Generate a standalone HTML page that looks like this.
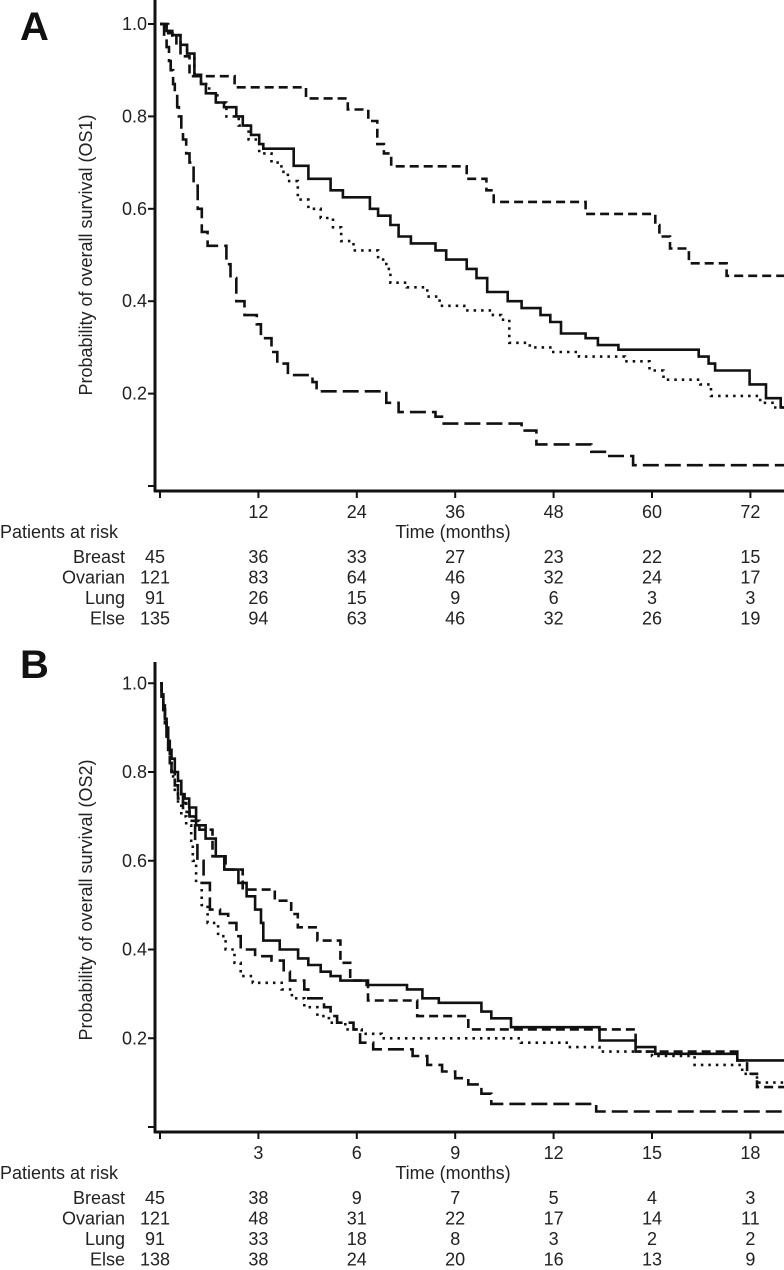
<!DOCTYPE html>
<html><head><meta charset="utf-8">
<style>
html,body{margin:0;padding:0;background:#fff;}
svg{display:block;font-family:"Liberation Sans",Arial,sans-serif;}
</style></head>
<body>
<svg id="chart" width="784" height="1270" viewBox="0 0 784 1270"></svg>
<script>
// ---------- Panel A data (months / survival) ----------
const aTicksX = [12, 24, 36, 48, 60, 72];
const aTicksY = [0.2, 0.4, 0.6, 0.8, 1.0];
const aBreastT = [0,1,2,2.5,3.6,9.1,17.8,22.9,25.4,26.5,27.3,28.2,37.4,39.8,40.7,51.9,60.4,60.9,62.2,64.5,69.1];
const aBreastS = [1,0.98,0.955,0.93,0.887,0.863,0.839,0.815,0.79,0.74,0.72,0.692,0.665,0.64,0.615,0.589,0.565,0.54,0.514,0.482,0.455];
const aOvarianT = [0,0.8,1.5,2.5,3.3,4.2,5.0,5.6,6.8,7.8,9.3,10.1,11.1,12.1,12.6,16.3,18.1,20.8,22.3,25.6,26.6,28.1,29.1,30.6,33.6,34.9,37.4,38.6,39.9,42.4,44.1,46.4,47.6,48.9,51.9,53.4,55.9,65.7,66.9,67.7,71.9,73.9,75.7];
const aOvarianS = [1,0.985,0.976,0.955,0.936,0.89,0.87,0.85,0.83,0.82,0.80,0.78,0.76,0.74,0.73,0.693,0.665,0.64,0.625,0.60,0.585,0.565,0.54,0.525,0.51,0.49,0.47,0.45,0.42,0.40,0.385,0.37,0.355,0.33,0.32,0.305,0.295,0.28,0.265,0.25,0.22,0.19,0.17];
const aLungT = [0,0.5,0.8,1.1,1.3,1.6,1.8,2.1,2.3,2.6,2.8,3.2,3.6,4.1,4.6,5.1,5.8,8.1,8.6,9.3,10.3,11.8,12.3,13.6,14.3,15.6,18.6,19.1,27.6,29.1,33.6,34.6,44.1,45.9,52.6,54.6,57.7];
const aLungS = [1,0.97,0.95,0.92,0.9,0.87,0.85,0.82,0.80,0.77,0.75,0.72,0.70,0.65,0.60,0.55,0.52,0.48,0.45,0.40,0.37,0.35,0.32,0.29,0.265,0.24,0.225,0.205,0.18,0.16,0.15,0.135,0.12,0.09,0.074,0.065,0.045];
const aElseT = [0,0.8,1.5,2.5,3.3,4.2,5.0,6.0,7.0,8.1,9.6,10.8,12.1,13.6,14.8,15.6,16.8,18.1,19.6,21.1,22.1,23.6,26.6,27.6,28.1,30.1,32.6,34.1,37.1,40.6,41.6,42.6,45.1,47.6,51.1,56.7,59.7,61.4,65.9,67.2,73.2,74.7];
const aElseS = [1,0.985,0.975,0.955,0.93,0.89,0.87,0.85,0.83,0.80,0.78,0.75,0.72,0.70,0.68,0.66,0.62,0.60,0.58,0.56,0.53,0.51,0.49,0.47,0.44,0.43,0.41,0.39,0.38,0.37,0.36,0.31,0.30,0.29,0.28,0.27,0.25,0.23,0.22,0.195,0.18,0.17];
const aRiskBreast = [45,36,33,27,23,22,15];
const aRiskOvarian = [121,83,64,46,32,24,17];
const aRiskLung = [91,26,15,9,6,3,3];
const aRiskElse = [135,94,63,46,32,26,19];

// ---------- Panel B data ----------
const bTicksX = [3, 6, 9, 12, 15, 18];
const bTicksY = [0.2, 0.4, 0.6, 0.8, 1.0];
const bBreastT = [0,0.05,0.1,0.15,0.2,0.25,0.3,0.35,0.45,0.55,0.7,0.9,1.2,1.6,2.0,2.52,3.5,4.0,4.2,4.8,5.5,5.8,6.34,7.84,9.4,14.5,17.6,17.9,18.2];
const bBreastS = [1,0.97,0.94,0.91,0.88,0.85,0.82,0.8,0.77,0.74,0.71,0.69,0.67,0.61,0.58,0.535,0.51,0.48,0.45,0.42,0.37,0.33,0.285,0.25,0.22,0.17,0.15,0.12,0.09];
const bOvarianT = [0,0.05,0.1,0.15,0.2,0.25,0.3,0.35,0.45,0.55,0.65,0.75,0.89,1.1,1.39,1.70,1.96,2.39,2.64,2.9,3.08,3.15,3.65,4.21,4.52,4.9,5.2,5.5,6.3,7.53,8.0,8.5,9.8,10.1,10.7,13.4,14.5,15.1,17.6];
const bOvarianS = [1,0.975,0.95,0.92,0.9,0.87,0.85,0.83,0.8,0.78,0.75,0.74,0.72,0.68,0.65,0.61,0.58,0.55,0.52,0.49,0.46,0.42,0.40,0.38,0.365,0.35,0.34,0.33,0.32,0.31,0.29,0.28,0.26,0.245,0.225,0.195,0.18,0.165,0.15];
const bLungT = [0,0.05,0.1,0.15,0.2,0.25,0.3,0.35,0.45,0.55,0.7,0.8,0.9,1.07,1.14,1.33,1.52,1.83,2.08,2.33,2.46,2.9,3.4,3.77,3.96,4.4,4.52,5.0,5.2,5.4,5.9,6.1,6.5,7.7,8.15,8.6,9.0,9.4,9.8,10.1,13.3];
const bLungS = [1,0.97,0.94,0.91,0.88,0.85,0.82,0.8,0.77,0.75,0.73,0.72,0.70,0.64,0.60,0.55,0.49,0.48,0.46,0.43,0.40,0.385,0.375,0.35,0.33,0.31,0.29,0.27,0.25,0.235,0.22,0.19,0.175,0.16,0.14,0.125,0.11,0.096,0.075,0.052,0.035];
const bElseT = [0,0.05,0.1,0.15,0.2,0.25,0.3,0.35,0.45,0.55,0.65,0.8,0.95,1.0,1.1,1.27,1.45,1.77,2.0,2.27,2.46,2.83,3.71,4.02,4.4,4.8,5.15,5.65,6.15,6.76,11.0,12.4,13.4,15.0,16.3,17.75,18.2];
const bElseS = [1,0.97,0.94,0.91,0.88,0.85,0.82,0.79,0.76,0.73,0.70,0.68,0.64,0.60,0.55,0.50,0.46,0.43,0.40,0.37,0.34,0.325,0.31,0.29,0.27,0.25,0.235,0.22,0.21,0.20,0.19,0.18,0.17,0.16,0.14,0.12,0.10];
const bRiskBreast = [45,38,9,7,5,4,3];
const bRiskOvarian = [121,48,31,22,17,14,11];
const bRiskLung = [91,33,18,8,3,2,2];
const bRiskElse = [138,38,24,20,16,13,9];

const NS = "http://www.w3.org/2000/svg";
const svg = document.getElementById("chart");
const FS = 18;
function mk(tag, attrs, parent) {
  const e = document.createElementNS(NS, tag);
  for (const k in attrs) e.setAttribute(k, attrs[k]);
  (parent || svg).appendChild(e);
  return e;
}
function txt(str, attrs, parent) {
  const t = mk("text", attrs, parent);
  t.textContent = str;
  return t;
}

function panel(cfg) {
  const g = mk("g", {});
  
  
  const xS = v => cfg.x0 + v * cfg.pxPer;
  const yS = v => cfg.y0 - v * cfg.yPer;

  const lbl = txt(cfg.letter, {x: 20, y: cfg.letterY, "font-size": 40, "font-weight": "bold", fill: "#111"}, g);
  
  

  const ya = mk("line", {x1: 155, y1: cfg.axisTop, x2: 155, y2: cfg.axisY + 1, stroke: "#111", "stroke-width": 3}, g);
  
  
  const xa = mk("line", {x1: 154, y1: cfg.axisY, x2: 784, y2: cfg.axisY, stroke: "#111", "stroke-width": 3}, g);
  
  

  [0].concat(cfg.ticksY).forEach(v => {
    const t = mk("line", {x1: 148, y1: yS(v), x2: 155, y2: yS(v), stroke: "#111", "stroke-width": 2}, g);
    
    
  });
  cfg.ticksY.forEach(v => {
    const t = txt(v.toFixed(1), {x: 147, y: yS(v) + 6, "text-anchor": "end", "font-size": FS, fill: "#222"}, g);
    
    
  });
  [0].concat(cfg.ticksX).forEach(v => {
    const t = mk("line", {x1: xS(v), y1: cfg.axisY, x2: xS(v), y2: cfg.axisY + 7, stroke: "#111", "stroke-width": 2}, g);
    
    
  });
  cfg.ticksX.forEach(v => {
    const t = txt(String(v), {x: xS(v), y: cfg.axisY + 27, "text-anchor": "middle", "font-size": FS, fill: "#222"}, g);
    
    
  });
  const xt = txt("Time (months)", {x: 453, y: cfg.axisY + 47, "text-anchor": "middle", "font-size": FS, fill: "#222"}, g);
  
  
  const yt = txt(cfg.yTitle, {x: 0, y: 0, "text-anchor": "middle", "font-size": FS, fill: "#222", transform: "translate(92," + cfg.yTitleY + ") rotate(-90)"}, g);
  
  

  cfg.series.forEach(s => {
    let d = "M" + xS(s.t[0]) + "," + yS(s.s[0]);
    for (let i = 1; i < s.t.length; i++) {
      d += " H" + xS(s.t[i]).toFixed(1) + " V" + yS(s.s[i]).toFixed(1);
    }
    d += " H" + Math.min(784, xS(s.end)).toFixed(1);
    const p = mk("path", {d: d, fill: "none", stroke: "#111", "stroke-width": s.w, "stroke-dasharray": s.dash, "stroke-linecap": "butt"}, g);
    
    
  });

  const pr = txt("Patients at risk", {x: 0, y: cfg.axisY + 47, "font-size": FS, fill: "#222"}, g);
  
  
  const cols = [0].concat(cfg.ticksX);
  cfg.risk.forEach((r, ri) => {
    const yy = cfg.axisY + 72 + ri * 20.5;
    const l = txt(r.label, {x: 125, y: yy, "text-anchor": "end", "font-size": FS, fill: "#222"}, g);
    
    
    r.vals.forEach((v, i) => {
      const c = txt(String(v), {x: i === 0 ? 155 : xS(cols[i]), y: yy, "text-anchor": "middle", "font-size": FS, fill: "#222"}, g);
      
      
    });
  });
}

panel({
  name: "panel-a", letter: "A", letterY: 40, x0: 160, pxPer: 8.2, y0: 486, yPer: 462,
  axisTop: 0, axisY: 491, ticksX: aTicksX, ticksY: aTicksY,
  yTitle: "Probability of overall survival (OS1)", yTitleY: 255,
  series: [
    {name: "breast-curve", t: aBreastT, s: aBreastS, end: 77, w: 2.6, dash: "9,5"},
    {name: "ovarian-curve", t: aOvarianT, s: aOvarianS, end: 77, w: 2.6, dash: "none"},
    {name: "lung-curve", t: aLungT, s: aLungS, end: 77, w: 2.6, dash: "16,6"},
    {name: "else-curve", t: aElseT, s: aElseS, end: 77, w: 2.6, dash: "2.5,5"}
  ],
  risk: [
    {label: "Breast", vals: aRiskBreast},
    {label: "Ovarian", vals: aRiskOvarian},
    {label: "Lung", vals: aRiskLung},
    {label: "Else", vals: aRiskElse}
  ]
});
panel({
  name: "panel-b", letter: "B", letterY: 678, x0: 160, pxPer: 32.8, y0: 1127, yPer: 443.75,
  axisTop: 662, axisY: 1132, ticksX: bTicksX, ticksY: bTicksY,
  yTitle: "Probability of overall survival (OS2)", yTitleY: 900,
  series: [
    {name: "breast-curve", t: bBreastT, s: bBreastS, end: 19.2, w: 2.6, dash: "9,5"},
    {name: "ovarian-curve", t: bOvarianT, s: bOvarianS, end: 19.2, w: 2.6, dash: "none"},
    {name: "lung-curve", t: bLungT, s: bLungS, end: 19.2, w: 2.6, dash: "16,6"},
    {name: "else-curve", t: bElseT, s: bElseS, end: 19.2, w: 2.6, dash: "2.5,5"}
  ],
  risk: [
    {label: "Breast", vals: bRiskBreast},
    {label: "Ovarian", vals: bRiskOvarian},
    {label: "Lung", vals: bRiskLung},
    {label: "Else", vals: bRiskElse}
  ]
});
</script>
</body></html>
